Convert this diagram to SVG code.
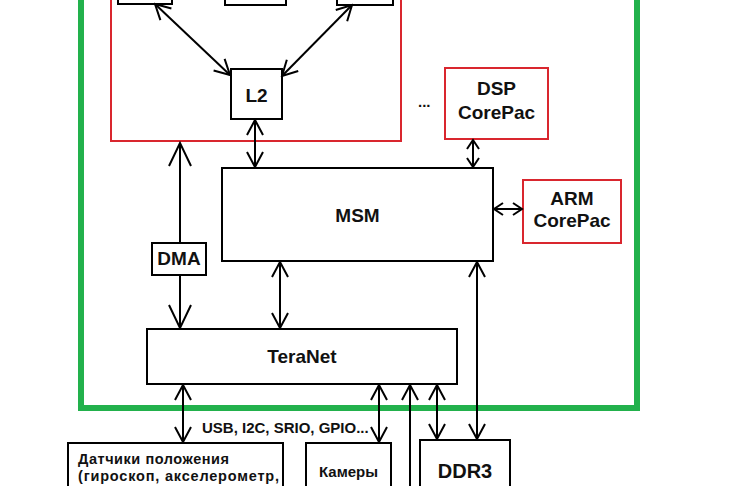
<svg xmlns="http://www.w3.org/2000/svg" width="730" height="486" viewBox="0 0 730 486">
<style>
.b{fill:#fff;stroke:#000;stroke-width:2}
.r{fill:#fff;stroke:#d9262e;stroke-width:2}
.t{font-family:"Liberation Sans",Arial,sans-serif;font-weight:bold;font-size:19px;fill:#111;text-anchor:middle}
.s{font-family:"Liberation Sans",Arial,sans-serif;font-weight:bold;font-size:14.5px;fill:#111}
.c line{stroke:#000;stroke-width:2;fill:none}
.d{marker-start:url(#a);marker-end:url(#a)}
.e{marker-end:url(#a)}
.m{marker-start:url(#sm);marker-end:url(#sm)}
</style>
<defs>
<marker id="a" markerUnits="userSpaceOnUse" viewBox="-17 -11 19 22" refX="0" refY="0" markerWidth="19" markerHeight="22" orient="auto-start-reverse">
<path d="M-15,-8 L0,0 L-15,8" fill="none" stroke="#000" stroke-width="2"/>
</marker>
<marker id="sm" markerUnits="userSpaceOnUse" viewBox="-11 -8 13 16" refX="0" refY="0" markerWidth="13" markerHeight="16" orient="auto-start-reverse">
<path d="M-9,-6 L0,0 L-9,6" fill="none" stroke="#000" stroke-width="2"/>
</marker>
<marker id="big" markerUnits="userSpaceOnUse" viewBox="-26 -13 28 26" refX="0" refY="0" markerWidth="28" markerHeight="26" orient="auto-start-reverse">
<path d="M-23,-11 L0,0 L-23,11" fill="none" stroke="#000" stroke-width="2"/>
</marker>
</defs>
<rect width="730" height="486" fill="#fff"/>
<g id="frame"><rect x="81" y="-20" width="556" height="428" fill="none" stroke="#22b14c" stroke-width="6"/></g>
<g id="cluster"><rect x="111" y="-20" width="290" height="161" class="r"/></g>
<g id="core1"><rect x="118" y="-30" width="54" height="34" class="b"/></g>
<g id="core2"><rect x="225" y="-30" width="61" height="35" class="b"/></g>
<g id="core3"><rect x="337" y="-30" width="56" height="35" class="b"/></g>
<g id="l2"><rect x="231" y="69" width="51" height="50" class="b"/><text class="t" x="256.5" y="102">L2</text></g>
<g id="dots"><text class="s" x="418" y="107" style="font-size:15px">...</text></g>
<g id="dsp"><rect x="445" y="68" width="103" height="71" class="r"/><text class="t" x="496.5" y="95">DSP</text><text class="t" x="496.5" y="119">CorePac</text></g>
<g id="arm"><rect x="523" y="180" width="98" height="63" class="r"/><text class="t" x="572" y="205">ARM</text><text class="t" x="572" y="227">CorePac</text></g>
<g id="msm"><rect x="222" y="168" width="271" height="93" class="b"/><text class="t" x="357.5" y="222">MSM</text></g>
<g id="dma"><rect x="152" y="243" width="54" height="32" class="b"/><text class="t" x="179" y="265">DMA</text></g>
<g id="teranet"><rect x="147" y="329" width="310" height="55" class="b"/><text class="t" x="302" y="363">TeraNet</text></g>
<g id="sensors"><rect x="68" y="443" width="215" height="60" class="b"/><text class="s" x="78" y="463.5" textLength="151" lengthAdjust="spacing">Датчики положения</text><text class="s" x="78" y="480.5" textLength="201" lengthAdjust="spacing">(гироскоп, акселерометр,</text></g>
<g id="cameras"><rect x="306" y="443" width="85" height="60" class="b"/><text class="t" x="348.5" y="477" style="font-size:15px">Камеры</text></g>
<g id="ddr3"><rect x="420" y="440" width="90" height="60" class="b"/><text class="t" x="465" y="478" style="font-size:20px">DDR3</text></g>
<g id="bus-label"><text class="s" x="202" y="433" style="font-size:15px">USB, I2C, SRIO, GPIO...</text></g>
<g id="connectors" class="c">
<line x1="155" y1="4" x2="230" y2="75" class="d"/>
<line x1="352" y1="5" x2="282" y2="76" class="d"/>
<line x1="255" y1="120" x2="255" y2="167" class="d"/>
<line x1="473" y1="140" x2="473" y2="167" class="m"/>
<line x1="494" y1="209" x2="522" y2="209" class="m"/>
<line x1="180" y1="143" x2="180" y2="243" marker-start="url(#big)"/>
<line x1="180" y1="275" x2="180" y2="328" marker-end="url(#big)"/>
<line x1="280" y1="262" x2="280" y2="328" class="d"/>
<line x1="477" y1="262" x2="477" y2="439" class="d"/>
<line x1="183" y1="385" x2="183" y2="442" class="d"/>
<line x1="379" y1="385" x2="379" y2="442" class="d"/>
<line x1="410" y1="490" x2="410" y2="385" class="e"/>
<line x1="437" y1="385" x2="437" y2="439" class="d"/>
</g>
</svg>
